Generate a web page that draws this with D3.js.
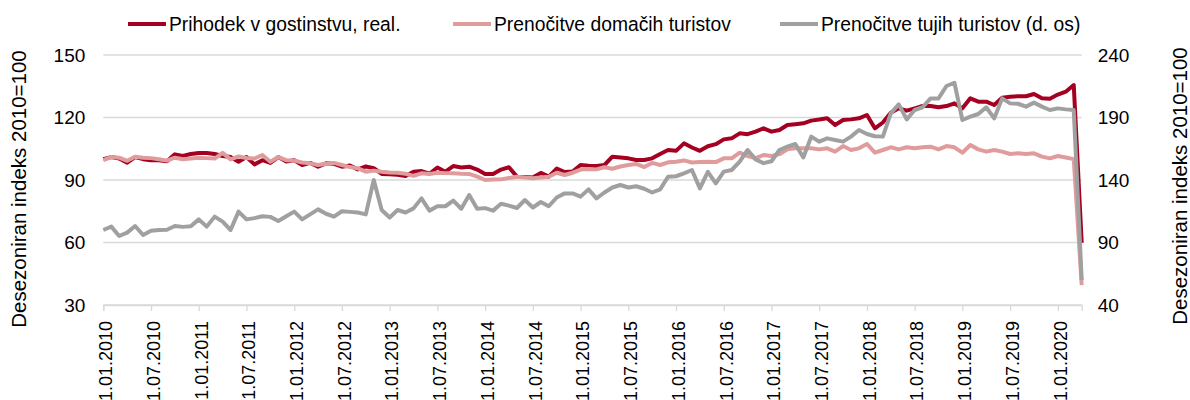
<!DOCTYPE html>
<html>
<head>
<meta charset="utf-8">
<script src="https://cdn.jsdelivr.net/npm/d3@7"></script>
<style>
    body { margin: 0; background: #fff; }
    text { font-family: "Liberation Sans", Arial, sans-serif; fill: #000; }
</style>
</head>
<body>
<div id="graf"></div>
<script>
// mesecni podatki 1.01.2010 - 1.04.2020
let prihodek = [
    100.0, 101.0, 100.3, 98.3, 101.0, 100.0, 99.5, 99.5, 99.0, 102.3, 101.5, 102.5,
    103.0, 103.0, 102.5, 101.5, 101.0, 98.8, 101.0, 97.5, 99.5, 98.2, 101.0, 98.9,
    99.5, 97.2, 98.2, 96.4, 98.0, 97.8, 96.4, 97.0, 95.1, 96.5, 95.7, 92.9,
    92.8, 92.5, 91.9, 94.0, 94.3, 93.0, 96.0, 94.0, 96.7, 96.0, 96.4, 95.0,
    92.9, 92.9, 95.0, 96.1, 91.6, 91.5, 91.2, 93.4, 91.6, 95.5, 93.8, 94.1,
    97.2, 96.8, 96.7, 97.2, 101.2, 100.8, 100.4, 99.6, 99.6, 100.4, 102.5, 104.4,
    104.0, 107.6, 105.6, 104.0, 106.2, 107.2, 109.5, 110.0, 112.4, 112.0, 113.2, 114.8,
    113.2, 114.0, 116.4, 116.8, 117.2, 118.5, 119.0, 119.6, 116.4, 118.8, 119.1, 119.6,
    121.2, 114.8, 117.6, 122.3, 124.4, 123.3, 124.4, 125.5, 125.5, 124.9, 125.5, 126.8,
    124.4, 129.2, 127.6, 127.6, 126.0, 129.5, 130.0, 130.2, 130.2, 131.3, 129.2, 129.0,
    131.0, 132.4, 135.6, 59.8
];

let domaci = [
    99.5, 101.0, 100.7, 99.2, 101.2, 100.7, 100.5, 100.0, 99.3, 100.7, 100.0, 100.3,
    100.7, 100.5, 100.3, 103.0, 99.9, 101.3, 100.6, 100.3, 102.0, 98.8, 101.0, 99.5,
    99.3, 98.4, 98.0, 97.2, 97.8, 98.2, 97.2, 96.2, 95.6, 94.0, 94.5, 94.0,
    93.6, 93.5, 93.0, 92.0, 93.2, 92.9, 93.5, 93.3, 93.2, 93.0, 92.9, 91.6,
    90.0, 90.2, 90.3, 91.0, 91.6, 91.2, 90.8, 91.2, 91.6, 93.5, 92.4, 93.5,
    95.0, 95.3, 95.1, 96.1, 95.4, 96.5, 97.2, 97.7, 96.2, 98.2, 97.2, 98.5,
    98.8, 99.4, 98.4, 98.6, 98.8, 98.6, 100.4, 100.4, 103.1, 101.5, 100.5, 102.0,
    101.5, 102.4, 104.7, 105.2, 105.2, 105.2, 104.7, 105.2, 103.6, 106.3, 104.4, 105.2,
    107.3, 103.1, 104.4, 105.7, 104.7, 105.7, 105.2, 105.7, 106.0, 104.7, 106.3, 105.7,
    103.1, 106.8, 104.7, 103.6, 104.4, 103.6, 102.5, 102.8, 102.5, 102.8, 101.2, 100.4,
    101.5, 100.8, 100.0, 39.5
];

let tuji = [
    100.0, 102.7, 95.2, 97.9, 103.2, 96.0, 99.4, 100.0, 100.2, 103.2, 102.5, 103.0,
    108.5, 102.7, 110.7, 106.7, 100.0, 114.7, 108.5, 109.5, 111.0, 110.5, 107.2, 111.0,
    114.7, 108.5, 112.5, 116.5, 113.0, 110.7, 115.0, 114.5, 114.0, 112.5, 140.0, 116.0,
    110.0, 116.0, 114.0, 117.3, 125.3, 115.5, 119.0, 119.0, 123.5, 117.0, 128.0, 117.0,
    117.5, 115.5, 121.0, 119.5, 117.6, 124.0, 118.0, 122.4, 119.0, 126.0, 129.3, 129.3,
    126.7, 132.5, 125.3, 130.0, 134.0, 136.0, 134.0, 135.0, 133.0, 130.0, 132.5, 142.6,
    143.0, 145.3, 148.0, 133.3, 146.5, 137.3, 146.7, 148.0, 154.7, 164.0, 156.5, 153.5,
    155.0, 164.0, 166.7, 168.8, 158.0, 174.7, 170.7, 173.3, 172.0, 170.7, 174.7, 180.0,
    176.8, 175.0, 174.7, 193.3, 200.5, 188.5, 196.0, 198.2, 205.3, 205.3, 215.2, 217.8,
    188.0, 190.7, 192.8, 198.2, 189.3, 205.3, 201.3, 201.0, 198.7, 201.9, 198.7, 196.0,
    197.3, 196.5, 196.0, 60.0
];

let oznake = [
    "1.01.2010", "1.07.2010", "1.01.2011", "1.07.2011", "1.01.2012", "1.07.2012",
    "1.01.2013", "1.07.2013", "1.01.2014", "1.07.2014", "1.01.2015", "1.07.2015",
    "1.01.2016", "1.07.2016", "1.01.2017", "1.07.2017", "1.01.2018", "1.07.2018",
    "1.01.2019", "1.07.2019", "1.01.2020"
];

let levaOs = [30, 60, 90, 120, 150];
let desnaOs = [40, 90, 140, 190, 240];

let serije = [
    {ime: "Prihodek v gostinstvu, real.", podatki: prihodek, barva: "#a50021", desna: false},
    {ime: "Prenočitve domačih turistov", podatki: domaci, barva: "#e09c9c", desna: false},
    {ime: "Prenočitve tujih turistov (d. os)", podatki: tuji, barva: "#a0a0a0", desna: true}
];

function narisigraf() {
    let sirina = 1190, visina = 400;
    let levo = 103.3, desno = 1081.7, zgoraj = 55, spodaj = 305;
    let pisava = "Liberation Sans, Arial, sans-serif";

    let svg = d3.select("#graf")
        .append("svg")
        .attr("width", sirina)
        .attr("height", visina);

    let x = d3.scaleLinear()
        .domain([0, prihodek.length - 1])
        .range([levo, desno]);

    let yL = d3.scaleLinear()
        .domain([30, 150])
        .range([spodaj, zgoraj]);

    let yD = d3.scaleLinear()
        .domain([40, 240])
        .range([spodaj, zgoraj]);

    // mreza
    svg.append("g")
        .selectAll("line")
        .data(levaOs)
        .enter()
        .append("line")
        .attr("x1", levo)
        .attr("x2", desno)
        .attr("y1", d => yL(d))
        .attr("y2", d => yL(d))
        .attr("stroke", "#d9d9d9")
        .attr("stroke-width", 1.3);

    // leva os
    let osL = svg.append("g")
        .attr("transform", "translate(" + (levo - 18) + ",0)")
        .call(d3.axisLeft(yL).tickValues(levaOs).tickSize(0).tickPadding(0));
    osL.select(".domain").remove();
    osL.selectAll("text")
        .style("font-size", "19px")
        .style("font-family", pisava);

    // desna os
    let osD = svg.append("g")
        .attr("transform", "translate(" + (desno + 16) + ",0)")
        .call(d3.axisRight(yD).tickValues(desnaOs).tickSize(0).tickPadding(0));
    osD.select(".domain").remove();
    osD.selectAll("text")
        .style("font-size", "19px")
        .style("font-family", pisava);

    // casovna os
    let indeksi = oznake.map((d, i) => i * 6);
    let osX = svg.append("g")
        .attr("transform", "translate(0," + spodaj + ")")
        .call(d3.axisBottom(x).tickValues(indeksi).tickSize(6).tickFormat((d, i) => oznake[i]));
    osX.select(".domain")
        .attr("stroke", "#d9d9d9")
        .attr("stroke-width", 1.3);
    osX.selectAll("line")
        .attr("stroke", "#d9d9d9")
        .attr("stroke-width", 1.3);
    osX.selectAll("text")
        .style("font-size", "18px")
        .style("font-family", pisava)
        .attr("text-anchor", "end")
        .attr("transform", "rotate(-90)")
        .attr("x", -16)
        .attr("y", 2)
        .attr("dy", "0.35em");

    // naslova osi
    svg.append("text")
        .attr("text-anchor", "middle")
        .attr("transform", "translate(26,189) rotate(-90)")
        .style("font-size", "20.5px")
        .text("Desezoniran indeks 2010=100");

    svg.append("text")
        .attr("text-anchor", "middle")
        .attr("transform", "translate(1187,186) rotate(-90)")
        .style("font-size", "20.5px")
        .text("Desezoniran indeks 2010=100");

    // crte
    for (let s of serije) {
        let y = s.desna ? yD : yL;
        let crta = d3.line()
            .x((d, i) => x(i))
            .y(d => y(d));
        svg.append("path")
            .datum(s.podatki)
            .attr("fill", "none")
            .attr("stroke", s.barva)
            .attr("stroke-width", 4)
            .attr("stroke-linejoin", "round")
            .attr("d", crta);
    }

    // legenda
    let legendaX = [128, 453, 780];
    let legenda = svg.append("g");
    serije.forEach(function (s, i) {
        legenda.append("line")
            .attr("x1", legendaX[i])
            .attr("x2", legendaX[i] + 38)
            .attr("y1", 24)
            .attr("y2", 24)
            .attr("stroke", s.barva)
            .attr("stroke-width", 4);
        legenda.append("text")
            .attr("x", legendaX[i] + 41)
            .attr("y", 24)
            .attr("dy", "0.35em")
            .style("font-size", "19.3px")
            .text(s.ime);
    });
}

narisigraf();
</script>
</body>
</html>
